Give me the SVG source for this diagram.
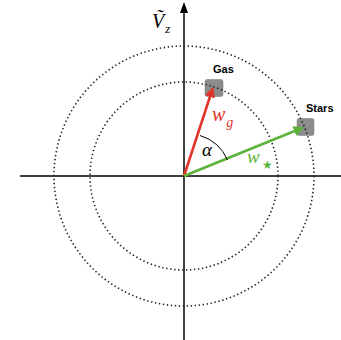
<svg xmlns="http://www.w3.org/2000/svg" width="341" height="340" viewBox="0 0 341 340">
<defs>
<style>
.axis{stroke:#000;stroke-width:1.5;fill:none}
.ring{stroke:#222;stroke-width:1.6;fill:none;stroke-dasharray:1.4 2.6}
.box{fill:#8c8c8c;stroke:#7a7a7a;stroke-width:0.5}
.lbl{font-family:"Liberation Sans",Arial,sans-serif;font-weight:bold;font-size:11px;fill:#000}
.math{font-family:"Liberation Serif","Times New Roman",serif;font-style:italic}
</style>
<marker id="ahRed" viewBox="0 0 10 10" refX="8" refY="5" markerWidth="4" markerHeight="4" orient="auto"><path d="M0,0 L10,5 L0,10 z" fill="#e0352b"/></marker>
<marker id="ahGreen" viewBox="0 0 10 10" refX="8" refY="5" markerWidth="4" markerHeight="4" orient="auto"><path d="M0,0 L10,5 L0,10 z" fill="#5cb33b"/></marker>
</defs>
<rect width="341" height="340" fill="#fff"/>
<g id="axes">
<line class="axis" x1="20" y1="176" x2="341" y2="176"/>
<line class="axis" x1="184" y1="340" x2="184" y2="10"/>
<path d="M184,2 L188,13 L180,13 z" fill="#000"/>
</g>
<g id="gas">
<rect class="box" x="205" y="79.5" width="18" height="17" rx="2"/>
<text class="lbl" x="213" y="73">Gas</text>
</g>
<g id="stars">
<rect class="box" x="297" y="118.5" width="17" height="17" rx="2"/>
<text class="lbl" x="306" y="112">Stars</text>
</g>
<g id="rings">
<circle class="ring" cx="184" cy="176" r="94"/>
<circle class="ring" cx="184" cy="176" r="130"/>
</g>
<g id="connectors">
<line x1="184" y1="176" x2="212.5" y2="89" stroke="#e0352b" stroke-width="2.6" marker-end="url(#ahRed)"/>
<line x1="184" y1="176" x2="302" y2="128" stroke="#5cb33b" stroke-width="2.6" marker-end="url(#ahGreen)"/>
<path d="M200,135.5 A44,44 0 0 1 227.5,160" fill="none" stroke="#000" stroke-width="1"/>
</g>
<g id="labels">
<text class="math" x="152" y="28" font-size="20">Ṽ<tspan font-size="13" dx="1" dy="5">z</tspan></text>
<text class="math" x="212" y="121" font-size="20" fill="#e0352b">w<tspan font-size="14" dx="1" dy="6">g</tspan></text>
<text class="math" x="202" y="156" font-size="19" fill="#000">α</text>
<text class="math" x="247" y="163" font-size="19" fill="#5cb33b">w</text>
<text x="262" y="169" font-size="12" fill="#5cb33b" font-family="DejaVu Sans,sans-serif">★</text>
</g>
</svg>
